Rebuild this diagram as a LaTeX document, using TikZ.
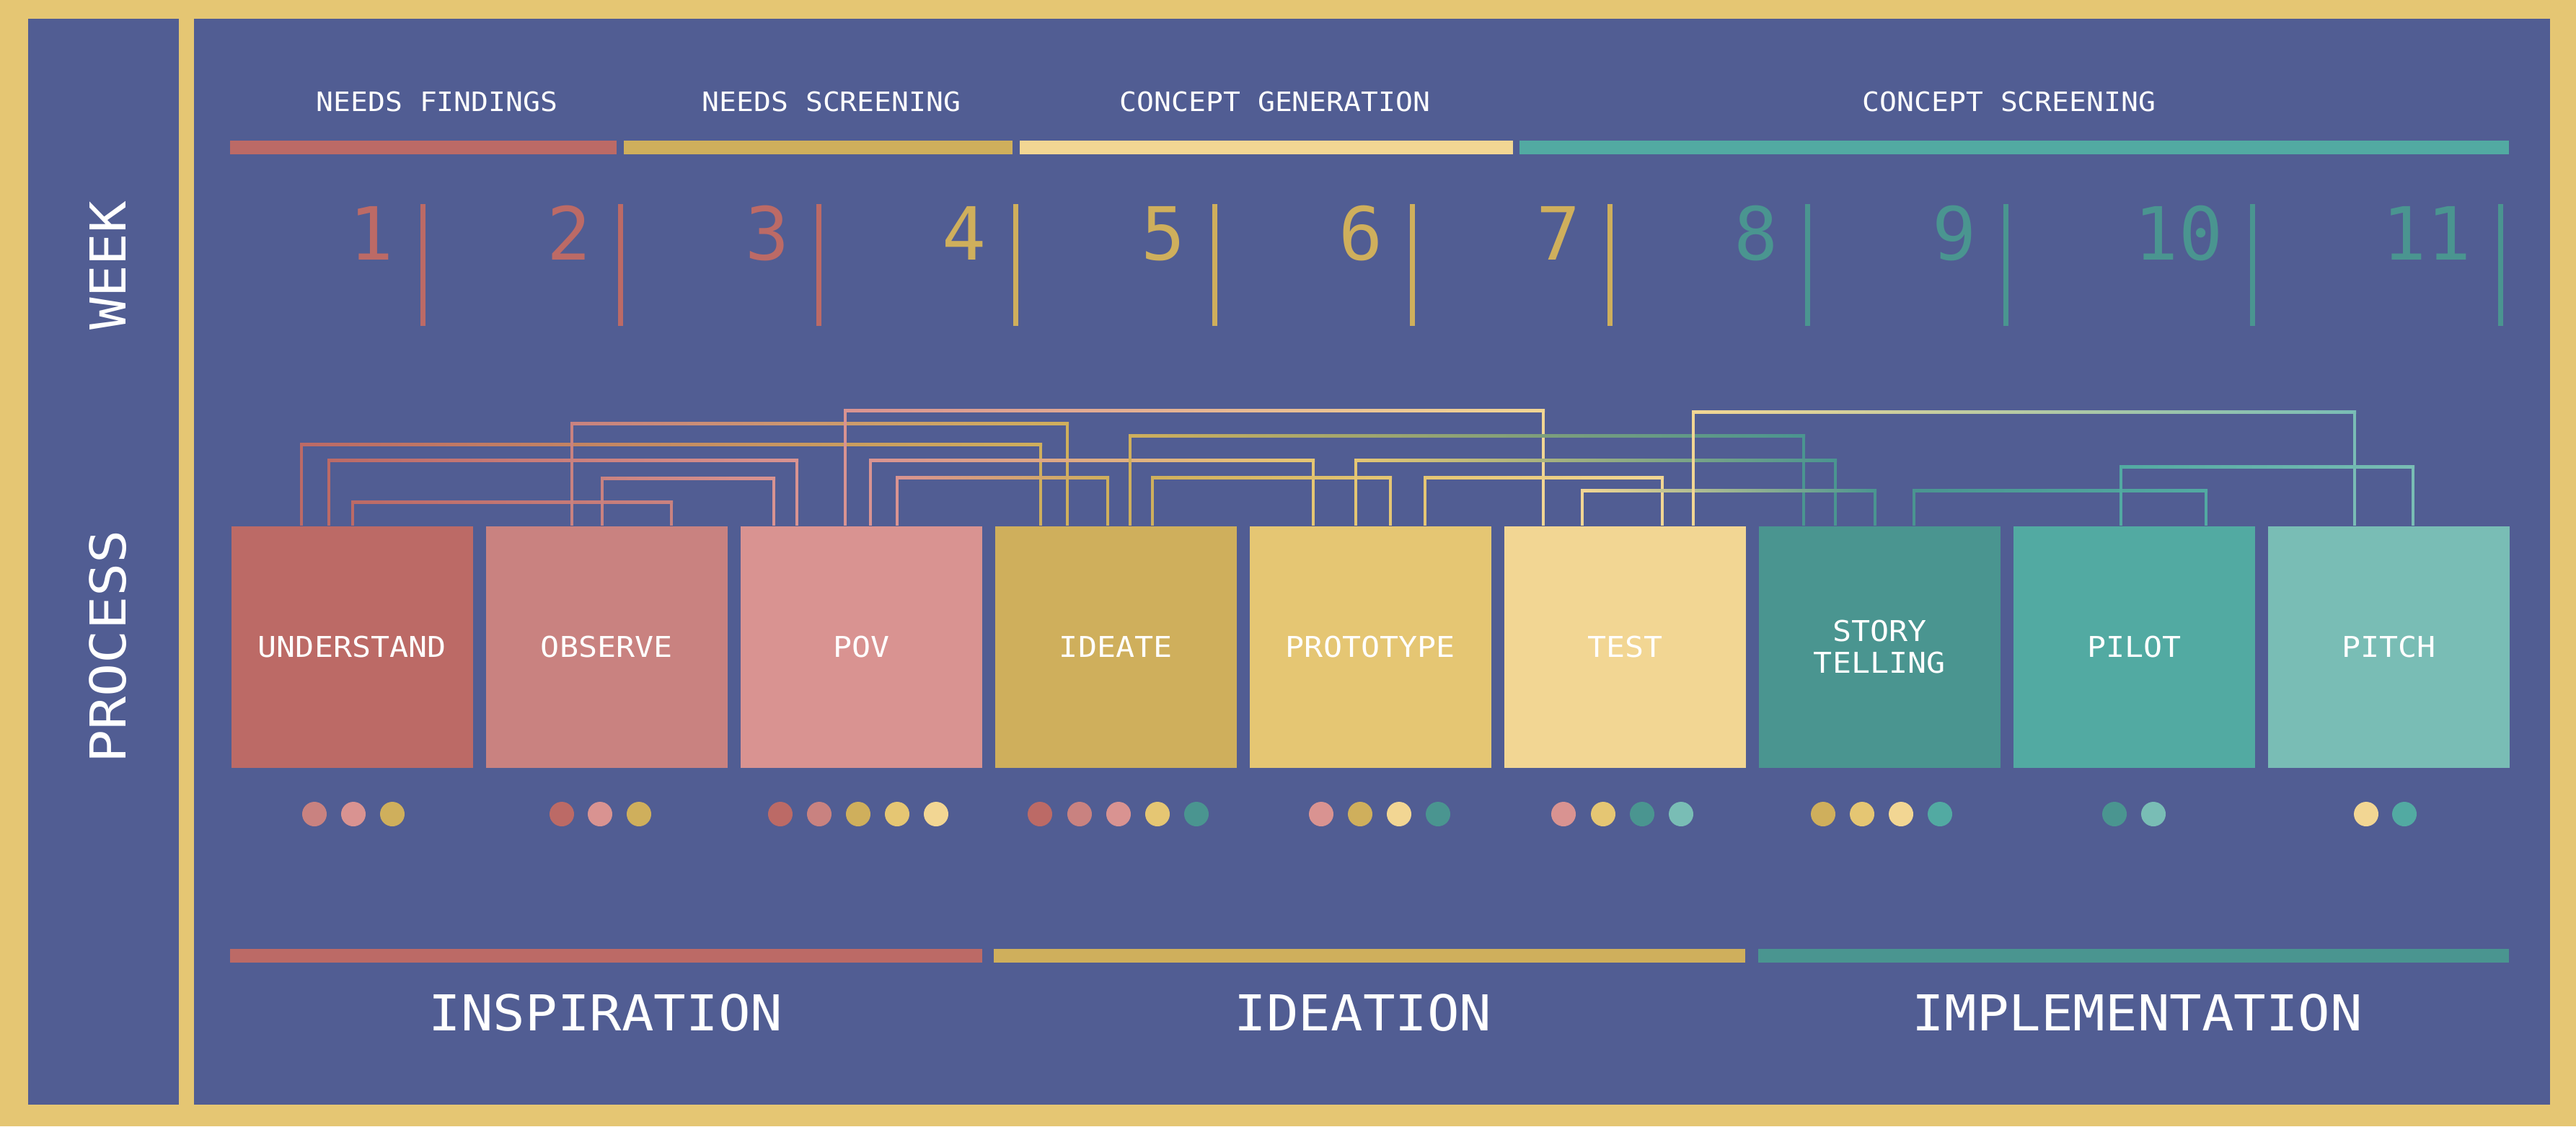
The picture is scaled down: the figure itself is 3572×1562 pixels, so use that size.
\documentclass[tikz,border=0pt]{standalone}
\usepackage{fontspec}
\usepackage{graphicx}
\newfontfamily\mono{DejaVu Sans Mono}
\usetikzlibrary{calc}
\newlength\px \setlength\px{0.01cm}
\definecolor{frame}{HTML}{E5C673}
\definecolor{bg}{HTML}{515D93}
\definecolor{cRed}{HTML}{BC6A66}
\definecolor{cRose}{HTML}{C98280}
\definecolor{cPink}{HTML}{D99391}
\definecolor{cGold}{HTML}{CFAF5C}
\definecolor{cYel}{HTML}{E5C673}
\definecolor{cCream}{HTML}{F2D693}
\definecolor{cTeal}{HTML}{4A9590}
\definecolor{cTealB}{HTML}{52AAA2}
\definecolor{cTealC}{HTML}{79BDB5}
\newcommand\sx[2]{\scalebox{#1}[1]{#2}}
% connector: src node, src offset, tgt node, tgt offset, level, src colour, tgt colour
\newcommand\conn[7]{%
  \coordinate (cs) at ([xshift=#2\px]#1.north west);
  \coordinate (ct) at ([xshift=#4\px]#3.north west);
  \coordinate (lvl) at (0,#5);
  \fill[#6] ($(cs)+(-2,0)$) rectangle ($(cs |- lvl)+(2,-2)$);
  \fill[#7] ($(ct)+(-2,0)$) rectangle ($(ct |- lvl)+(2,-2)$);
  \shade[left color=#6, right color=#7] ($(cs |- lvl)+(-2,-2)$) rectangle ($(ct |- lvl)+(2,2)$);
}
\begin{document}
\begin{tikzpicture}[x=0.01cm,y=-0.01cm,
  box/.style={minimum width=335\px, minimum height=335\px, inner sep=0pt, anchor=north west,
    text=white, font=\mono\fontsize{11.3}{12.5}\selectfont, align=center},
  toplabel/.style={text=white, font=\mono\fontsize{10.55}{12}\selectfont, inner sep=0pt},
  numlbl/.style={font=\mono\fontsize{28.9}{30}\selectfont, inner sep=0pt, anchor=base east},
  biglabel/.style={text=white, font=\mono\fontsize{19.5}{22}\selectfont, inner sep=0pt},
  dot/.style={radius=17\px}
]
\useasboundingbox (0,0) rectangle (3572,1562);
\fill[frame] (0,0) rectangle (3572,1562);
\fill[bg] (39,26) rectangle (248,1532);
\fill[bg] (269,26) rectangle (3536,1532);

% sidebar
\node[biglabel, rotate=90] (week) at (150,368) {\sx{1.08}{WEEK}};
\node[biglabel, rotate=90] (process) at (150,897) {\sx{1.12}{PROCESS}};

% top phase bars
\fill[cRed] (319,195) rectangle (855,214);
\fill[cGold] (865,195) rectangle (1404,214);
\fill[cCream] (1414,195) rectangle (2098,214);
\fill[cTealB] (2107,195) rectangle (3479,214);
\node[toplabel] (p1) at (606,140.5) {\sx{1.07}{NEEDS FINDINGS}};
\node[toplabel] (p2) at (1153,140.5) {\sx{1.07}{NEEDS SCREENING}};
\node[toplabel] (p3) at (1768,140.5) {\sx{1.07}{CONCEPT GENERATION}};
\node[toplabel] (p4) at (2786,140.5) {\sx{1.07}{CONCEPT SCREENING}};

% weeks
\foreach \x/\n/\c in {586/1/cRed, 860/2/cRed, 1135/3/cRed, 1408/4/cGold, 1684/5/cGold,
  1958/6/cGold, 2232/7/cGold, 2506/8/cTeal, 2781/9/cTeal, 3123/10/cTeal, 3467/11/cTeal}{
  \draw[\c, line width=7\px] (\x,283) -- (\x,452);
  \node[numlbl, text=\c] (w\n) at (\x-40,360) {\n};
}

% process boxes
\path (320,729) node[box, fill=cRed] (b1) {\sx{1.09}{UNDERSTAND}};
\path (673,729) node[box, fill=cRose] (b2) {\sx{1.09}{OBSERVE}};
\path (1026,729) node[box, fill=cPink] (b3) {\sx{1.09}{POV}};
\path (1379,729) node[box, fill=cGold] (b4) {\sx{1.09}{IDEATE}};
\path (1732,729) node[box, fill=cYel] (b5) {\sx{1.09}{PROTOTYPE}};
\path (2085,729) node[box, fill=cCream] (b6) {\sx{1.09}{TEST}};
\path (2438,729) node[box, fill=cTeal] (b7) {\sx{1.09}{STORY}\\\sx{1.09}{TELLING}};
\path (2791,729) node[box, fill=cTealB] (b8) {\sx{1.09}{PILOT}};
\path (3144,729) node[box, fill=cTealC] (b9) {\sx{1.09}{PITCH}};

% connectors
\conn{b1}{98}{b4}{64}{616}{cRed}{cGold}
\conn{b1}{136}{b3}{79}{638}{cRed}{cPink}
\conn{b1}{169}{b2}{258}{696}{cRed}{cRose}
\conn{b2}{120}{b4}{101}{587}{cRose}{cGold}
\conn{b2}{162}{b3}{47}{663}{cRose}{cPink}
\conn{b3}{146}{b6}{55}{569}{cPink}{cCream}
\conn{b3}{181}{b5}{89}{638}{cPink}{cYel}
\conn{b3}{218}{b4}{157}{662}{cPink}{cGold}
\conn{b4}{188}{b7}{63}{604}{cGold}{cTeal}
\conn{b4}{219}{b5}{196}{662}{cGold}{cYel}
\conn{b5}{148}{b7}{107}{638}{cYel}{cTeal}
\conn{b5}{244}{b6}{220}{662}{cYel}{cCream}
\conn{b6}{109}{b7}{162}{680}{cCream}{cTeal}
\conn{b6}{263}{b9}{121}{571}{cCream}{cTealC}
\conn{b7}{216}{b8}{268}{680}{cTeal}{cTealB}
\conn{b8}{150}{b9}{202}{647}{cTealB}{cTealC}

% dots
\foreach \x/\c in {436/cRose, 490/cPink, 544/cGold,
  779/cRed, 832/cPink, 886/cGold,
  1082/cRed, 1136/cRose, 1190/cGold, 1244/cYel, 1298/cCream,
  1442/cRed, 1497/cRose, 1551/cPink, 1605/cYel, 1659/cTeal,
  1832/cPink, 1886/cGold, 1940/cCream, 1994/cTeal,
  2168/cPink, 2223/cYel, 2277/cTeal, 2331/cTealC,
  2528/cGold, 2582/cYel, 2636/cCream, 2690/cTealB,
  2932/cTeal, 2986/cTealC,
  3281/cCream, 3334/cTealB}{
  \fill[\c] (\x,1129) circle[dot];
}

% bottom phases
\fill[cRed] (319,1316) rectangle (1362,1335);
\fill[cGold] (1378,1316) rectangle (2420,1335);
\fill[cTeal] (2438,1316) rectangle (3479,1335);
\node[biglabel] (insp) at (840,1405) {\sx{1.08}{INSPIRATION}};
\node[biglabel] (idea) at (1890,1405) {\sx{1.08}{IDEATION}};
\node[biglabel] (impl) at (2964,1405) {\sx{1.08}{IMPLEMENTATION}};
\end{tikzpicture}
\end{document}
